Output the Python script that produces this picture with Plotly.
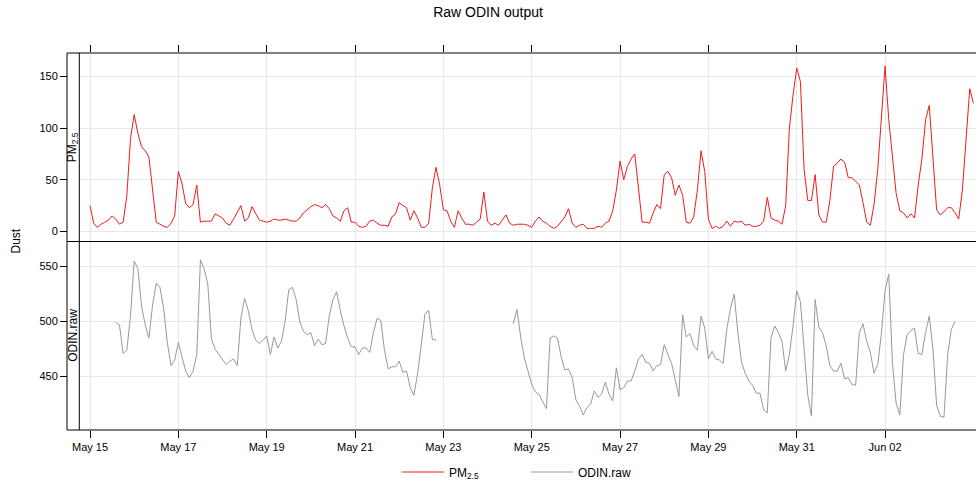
import pandas as pd
import plotly.graph_objects as go

# ---------------- data ----------------
title_text = "Raw ODIN output"
y_title = "Dust"
series_names = ["PM<sub>2.5</sub>", "ODIN.raw"]
tick_labels = ["May 15", "May 17", "May 19", "May 21", "May 23",
               "May 25", "May 27", "May 29", "May 31", "Jun 02"]

pm25_start = "2017-05-15 00:00"
pm25_values = [
    25, 8, 4, 7, 9, 11, 15, 12, 7, 9, 34, 90,
    113, 95, 82, 78, 72, 40, 9, 7, 5, 4, 8, 15,
    58, 46, 27, 23, 26, 45, 9, 10, 10, 10, 17, 15,
    13, 8, 6, 12, 18, 25, 10, 13, 24, 18, 11, 10,
    9, 10, 12, 11, 11, 12, 11, 10, 10, 13, 18, 21,
    24, 26, 25, 23, 26, 22, 15, 13, 10, 20, 23, 9,
    9, 5, 4, 5, 10, 11, 8, 6, 6, 5, 14, 17,
    28, 25, 23, 11, 20, 13, 4, 4, 8, 42, 62, 45,
    21, 20, 10, 4, 20, 13, 7, 7, 6, 9, 12, 38,
    10, 6, 8, 6, 11, 16, 8, 6, 7, 7, 7, 6,
    4, 10, 14, 10, 8, 5, 3, 5, 9, 14, 22, 8,
    4, 6, 7, 3, 3, 3, 5, 4, 8, 10, 20, 40,
    68, 50, 63, 70, 75, 40, 9, 9, 8, 18, 26, 22,
    55, 58, 52, 35, 45, 35, 9, 8, 14, 40, 78, 58,
    12, 3, 5, 3, 5, 10, 5, 10, 9, 10, 6, 7,
    5, 5, 6, 10, 33, 13, 11, 10, 7, 25, 100, 132,
    158, 145, 60, 30, 30, 55, 16, 9, 9, 30, 63, 66,
    70, 67, 52, 52, 48, 45, 28, 9, 6, 26, 60, 114,
    160, 108, 70, 37, 20, 18, 13, 17, 13, 45, 70, 108,
    122, 70, 21, 16, 19, 23, 23, 18, 12, 40, 90, 138,
    124,
]

odin_start_1 = "2017-05-15 14:00"
odin_values_1 = [
    499, 497, 471, 474, 505, 555,
    548, 514, 497, 485, 515, 535, 531, 512, 481, 460, 465, 481,
    468, 455, 449, 455, 470, 556, 548, 534, 484, 475, 470, 466,
    461, 464, 466, 460, 503, 521, 510, 493, 483, 480, 483, 487,
    470, 486, 476, 482, 500, 529, 531, 520, 500, 491, 488, 490,
    478, 484, 479, 480, 505, 520, 527, 510, 496, 485, 477, 477,
    470, 476, 476, 472, 490, 503, 501, 474, 457, 459, 459, 464,
    454, 455, 440, 433, 453, 479, 507, 510, 484, 483,
]
odin_start_2 = "2017-05-24 14:00"
odin_values_2 = [
    498, 511, 486, 467, 455, 443,
    436, 434, 427, 421, 485, 487, 485, 468, 456, 457, 449, 429,
    423, 415, 422, 425, 437, 431, 434, 445, 434, 428, 458, 438,
    440, 446, 446, 455, 466, 470, 463, 462, 455, 460, 461, 479,
    470, 462, 447, 432, 506, 486, 489, 478, 474, 505, 494, 466,
    473, 466, 465, 462, 493, 512, 525, 490, 463, 453, 446, 442,
    435, 435, 420, 417, 485, 496, 490, 482, 455, 470, 496, 528,
    518, 478, 433, 414, 520, 495, 490, 478, 460, 455, 455, 462,
    448, 449, 443, 442, 490, 498, 482, 472, 453, 461, 489, 528,
    543, 462, 426, 415, 470, 488, 492, 494, 471, 470, 490, 505,
    475, 424, 414, 413, 470, 493, 500,
]
sample_step = "2h"

# ---------------- build ----------------
W, H = 976, 484
FONT = "Liberation Sans, Arial, Helvetica, sans-serif"
pm_col = "#EE1C1C"
odin_col = "#999999"
grid_col = "#E8E8E8"

pm_x = pd.date_range(pm25_start, periods=len(pm25_values), freq=sample_step)
o1 = pd.date_range(odin_start_1, periods=len(odin_values_1), freq=sample_step)
o2 = pd.date_range(odin_start_2, periods=len(odin_values_2), freq=sample_step)
odin_x = list(o1) + [o1[-1] + pd.Timedelta(sample_step)] + list(o2)
odin_y = list(odin_values_1) + [None] + list(odin_values_2)

tick_vals = pd.date_range("2017-05-15", periods=len(tick_labels), freq="2D")
x_range = ["2017-05-14 18:11", "2017-06-04 01:24"]

fig = go.Figure()
fig.add_trace(go.Scatter(x=pm_x, y=pm25_values, mode="lines", name=series_names[0],
                         line=dict(color=pm_col, width=1), xaxis="x2", yaxis="y2"))
fig.add_trace(go.Scatter(x=odin_x, y=odin_y, mode="lines", name=series_names[1],
                         line=dict(color=odin_col, width=1), connectgaps=False,
                         xaxis="x", yaxis="y"))

ml, mr, mt, mb = 67, 0, 53, 54
pw = W - ml - mr
ph = H - mt - mb
strip_right = (79.3 - ml) / pw

common_x = dict(domain=[strip_right, 1], range=x_range, type="date",
                tickvals=tick_vals, ticktext=tick_labels, ticks="outside",
                ticklen=7, tickcolor="black", showgrid=True, gridcolor=grid_col,
                gridwidth=1, zeroline=False, showline=False, automargin=False,
                tickfont=dict(family=FONT, size=11, color="black"))

common_y = dict(anchor="free", position=0, ticks="outside", ticklen=7, tickcolor="black",
                showgrid=True, gridcolor=grid_col, zeroline=False, showline=False,
                automargin=False, tickfont=dict(family=FONT, size=11, color="black"))

fig.update_layout(
    width=W, height=H,
    margin=dict(l=ml, r=mr, t=mt, b=mb, autoexpand=False),
    paper_bgcolor="white", plot_bgcolor="white",
    font=dict(family=FONT, size=12, color="black"),
    title=dict(text=title_text, x=0.5, xref="container", xanchor="center",
               y=1 - 12 / H, yref="container", yanchor="middle",
               font=dict(family=FONT, size=14, color="black")),
    xaxis=dict(**common_x, anchor="y", side="bottom", showticklabels=True),
    xaxis2=dict(**common_x, anchor="y2", side="top", showticklabels=False),
    yaxis=dict(**common_y, domain=[0, 0.5], range=[401.5, 572.7], tickvals=[450, 500, 550]),
    yaxis2=dict(**common_y, domain=[0.5, 1], range=[-9.7, 172.6], tickvals=[0, 50, 100, 150]),
    showlegend=True,
    legend=dict(orientation="h", x=(397 - ml) / pw, xanchor="left", xref="paper",
                y=(430 - 472) / ph, yanchor="middle", yref="paper",
                font=dict(family=FONT, size=12, color="black"),
                bgcolor="rgba(0,0,0,0)", itemwidth=42, entrywidth=72),
)

# panel frames and strip
line = dict(color="black", width=1)
shapes = [
    dict(type="line", xref="paper", yref="paper", x0=0, x1=1, y0=1, y1=1, line=line),
    dict(type="line", xref="paper", yref="paper", x0=0, x1=1, y0=0.5, y1=0.5, line=line),
    dict(type="line", xref="paper", yref="paper", x0=0, x1=1, y0=0, y1=0, line=line),
    dict(type="line", xref="paper", yref="paper", x0=0, x1=0, y0=0, y1=1, line=line),
    dict(type="line", xref="paper", yref="paper", x0=strip_right, x1=strip_right,
         y0=0, y1=1, line=line),
]
fig.update_layout(shapes=shapes)

strip_x = (73 - ml) / pw
fig.add_annotation(text=series_names[0], x=strip_x, y=0.75, xref="paper", yref="paper",
                   textangle=-90, showarrow=False, xanchor="center", yanchor="middle",
                   font=dict(family=FONT, size=12, color="black"))
fig.add_annotation(text=series_names[1], x=strip_x, y=0.25, xref="paper", yref="paper",
                   textangle=-90, showarrow=False, xanchor="center", yanchor="middle",
                   font=dict(family=FONT, size=12, color="black"))
fig.add_annotation(text=y_title, x=(15 - ml) / pw, y=0.5, xref="paper", yref="paper",
                   textangle=-90, showarrow=False, xanchor="center", yanchor="middle",
                   font=dict(family=FONT, size=12, color="black"))

fig.write_html("out.html",
               config={"displayModeBar": False},
               post_script="document.body.style.margin='0';"
                           "document.body.style.overflow='hidden';")
